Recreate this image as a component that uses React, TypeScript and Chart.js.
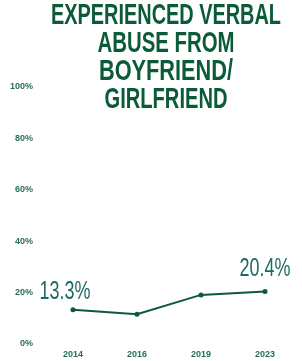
import React, { useEffect, useRef } from "react";
import { Chart, registerables } from "chart.js";

Chart.register(...registerables);

const years = ["2014", "2016", "2019", "2023"];
const values = [13.3, 11.6, 19.1, 20.4];
const labelledIndexes = [0, 3];
const titleLines = ["EXPERIENCED VERBAL", "ABUSE FROM", "BOYFRIEND/", "GIRLFRIEND"];
const yTicks = [0, 20, 40, 60, 80, 100];

const DARK = "#0b5a38";
const TICK = "#2b6e52";
const TEAL = "#1b6b64";

const titlePlugin = {
  id: "customTitle",
  afterDraw(chart: any) {
    const ctx = chart.ctx;
    ctx.save();
    ctx.fillStyle = DARK;
    ctx.font = 'bold 30px "Liberation Sans"';
    ctx.textAlign = "center";
    ctx.textBaseline = "alphabetic";
    const widths = [230, 137, 134, 123];
    titleLines.forEach((line, i) => {
      ctx.fillText(line, 166, 24 + i * 28, widths[i]);
    });
    ctx.restore();
  },
};

const dataLabelPlugin = {
  id: "dataLabels",
  afterDatasetsDraw(chart: any) {
    const ctx = chart.ctx;
    const meta = chart.getDatasetMeta(0);
    ctx.save();
    ctx.fillStyle = TEAL;
    ctx.font = '26px "Liberation Sans"';
    ctx.textAlign = "center";
    ctx.textBaseline = "alphabetic";
    const offs: Record<number, [number, number]> = { 0: [-8, -11], 3: [0, -16] };
    labelledIndexes.forEach((idx) => {
      const pt = meta.data[idx];
      const [dx, dy] = offs[idx];
      ctx.fillText(values[idx].toFixed(1) + "%", pt.x + dx, pt.y + dy, 51);
    });
    ctx.restore();
  },
};

export default function App() {
  const ref = useRef<HTMLCanvasElement>(null);
  useEffect(() => {
    if (!ref.current) return;
    const chart = new Chart(ref.current, {
      type: "line",
      data: {
        labels: years,
        datasets: [
          {
            data: values,
            borderColor: DARK,
            backgroundColor: DARK,
            borderWidth: 2,
            pointRadius: 2.5,
            pointBackgroundColor: DARK,
            pointBorderWidth: 0,
            tension: 0,
          },
        ],
      },
      options: {
        animation: false,
        responsive: true,
        maintainAspectRatio: false,
        layout: { padding: { top: 87, right: 5, left: 0, bottom: 0 } },
        plugins: { legend: { display: false }, title: { display: false }, tooltip: { enabled: false } },
        scales: {
          x: {
            offset: true,
            grid: { display: false, drawTicks: false },
            border: { display: false },
            ticks: { color: TICK, font: { family: "Liberation Sans", size: 9, weight: "bold" }, padding: 5 },
            afterFit: (s: any) => {
              s.height = 17;
            },
          },
          y: {
            min: 0,
            max: 100,
            grid: { display: false, drawTicks: false },
            border: { display: false },
            afterBuildTicks: (s: any) => {
              s.ticks = yTicks.map((v) => ({ value: v }));
            },
            ticks: {
              color: TICK,
              font: { family: "Liberation Sans", size: 9, weight: "bold" },
              padding: 8,
              callback: (v: any) => v + "%",
            },
            afterFit: (s: any) => {
              s.width = 41;
            },
          },
        },
      },
      plugins: [titlePlugin, dataLabelPlugin],
    });
    return () => chart.destroy();
  }, []);
  return (
    <div style={{ position: "fixed", left: 0, top: 0, width: 302, height: 361, background: "#fff" }}>
      <canvas ref={ref} />
    </div>
  );
}
